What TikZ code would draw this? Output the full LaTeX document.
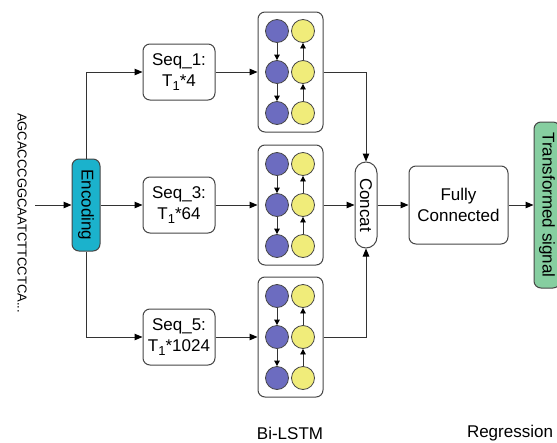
\documentclass[tikz,border=0pt]{standalone}
\usepackage{fontspec}
\setmainfont{Liberation Sans}
\usetikzlibrary{arrows.meta}
\definecolor{encfill}{RGB}{27,178,204}
\definecolor{greenfill}{RGB}{134,206,160}
\definecolor{bluefill}{RGB}{108,108,192}
\definecolor{yellowfill}{RGB}{240,236,122}
\definecolor{edge}{RGB}{70,70,70}
\newcommand{\subone}{\raisebox{-4pt}{\fontsize{13}{13}\selectfont 1}}
\begin{document}
\begin{tikzpicture}[x=1pt,y=-1pt,
  box/.style={draw=edge, line width=1pt, rounded corners=7pt, fill=white, align=center,
    font=\fontsize{17}{21}\selectfont, inner sep=0pt},
  lstm/.style={draw=edge, line width=1pt, rounded corners=7pt, minimum width=65pt, minimum height=120pt, inner sep=0pt},
  bc/.style={circle, draw=edge, line width=0.8pt, fill=bluefill, minimum size=23pt, inner sep=0pt},
  yc/.style={circle, draw=edge, line width=0.8pt, fill=yellowfill, minimum size=23pt, inner sep=0pt},
  conn/.style={draw=black!80, line width=1pt, -{Triangle[length=8pt,width=6.5pt,black]}},
  sarr/.style={draw=black!80, line width=0.8pt, -{Triangle[length=5.5pt,width=5.5pt,black]}},
  lab/.style={font=\fontsize{17}{21}\selectfont}
]
\useasboundingbox (0,0) rectangle (557,442);

\node[rotate=-90, font=\fontsize{13}{15}\selectfont, inner sep=0pt] (seqtxt) at (22,213) {AGCACCCGGCAATCTTCCTCA...};
\node[box, rotate=-90, fill=encfill, minimum width=92pt, minimum height=28pt] (enc) at (86,205) {Encoding};
\coordinate (start) at (35,205);
\draw[conn] (start) -- (enc);

\node[box, minimum width=72pt, minimum height=56pt] (s1) at (179,72) {Seq\_1:\\T\subone*4};
\node[box, minimum width=72pt, minimum height=56pt] (s3) at (179,205) {Seq\_3:\\T\subone*64};
\node[box, minimum width=72pt, minimum height=56pt] (s5) at (179,337) {Seq\_5:\\T\subone*1024};

\draw[conn] (enc) |- (s1);
\draw[conn] (enc) -- (s3);
\draw[conn] (enc) |- (s5);

\foreach \k/\yy in {1/72,2/205,3/337} {
  \node[lstm] (l\k) at (290.5,\yy) {};
  \foreach \j/\dy in {1/-41,2/0,3/41} {
    \node[bc] (b\k\j) at (277,\yy+\dy) {};
    \node[yc] (y\k\j) at (303,\yy+\dy) {};
  }
  \draw[sarr] (b\k1) -- (b\k2);
  \draw[sarr] (b\k2) -- (b\k3);
  \draw[sarr] (y\k3) -- (y\k2);
  \draw[sarr] (y\k2) -- (y\k1);
}

\draw[conn] (s1) -- (l1);
\draw[conn] (s3) -- (l2);
\draw[conn] (s5) -- (l3);

\node[box, rotate=-90, rounded corners=11pt, minimum width=86pt, minimum height=22pt] (concat) at (366,205) {Concat};
\draw[conn] (l1) -| (concat);
\draw[conn] (l2) -- (concat);
\draw[conn] (l3) -| (concat);

\node[box, minimum width=99pt, minimum height=78pt] (fc) at (458.5,205) {Fully\\Connected};
\draw[conn] (concat) -- (fc);

\node[box, rotate=-90, fill=greenfill, minimum width=166pt, minimum height=26pt] (out) at (547,205) {Transformed signal};
\draw[conn] (fc) -- (out);

\node[lab] (bilstm) at (290,433) {Bi-LSTM};
\node[lab] (regr) at (510,433) {Regression};
\end{tikzpicture}
\end{document}
